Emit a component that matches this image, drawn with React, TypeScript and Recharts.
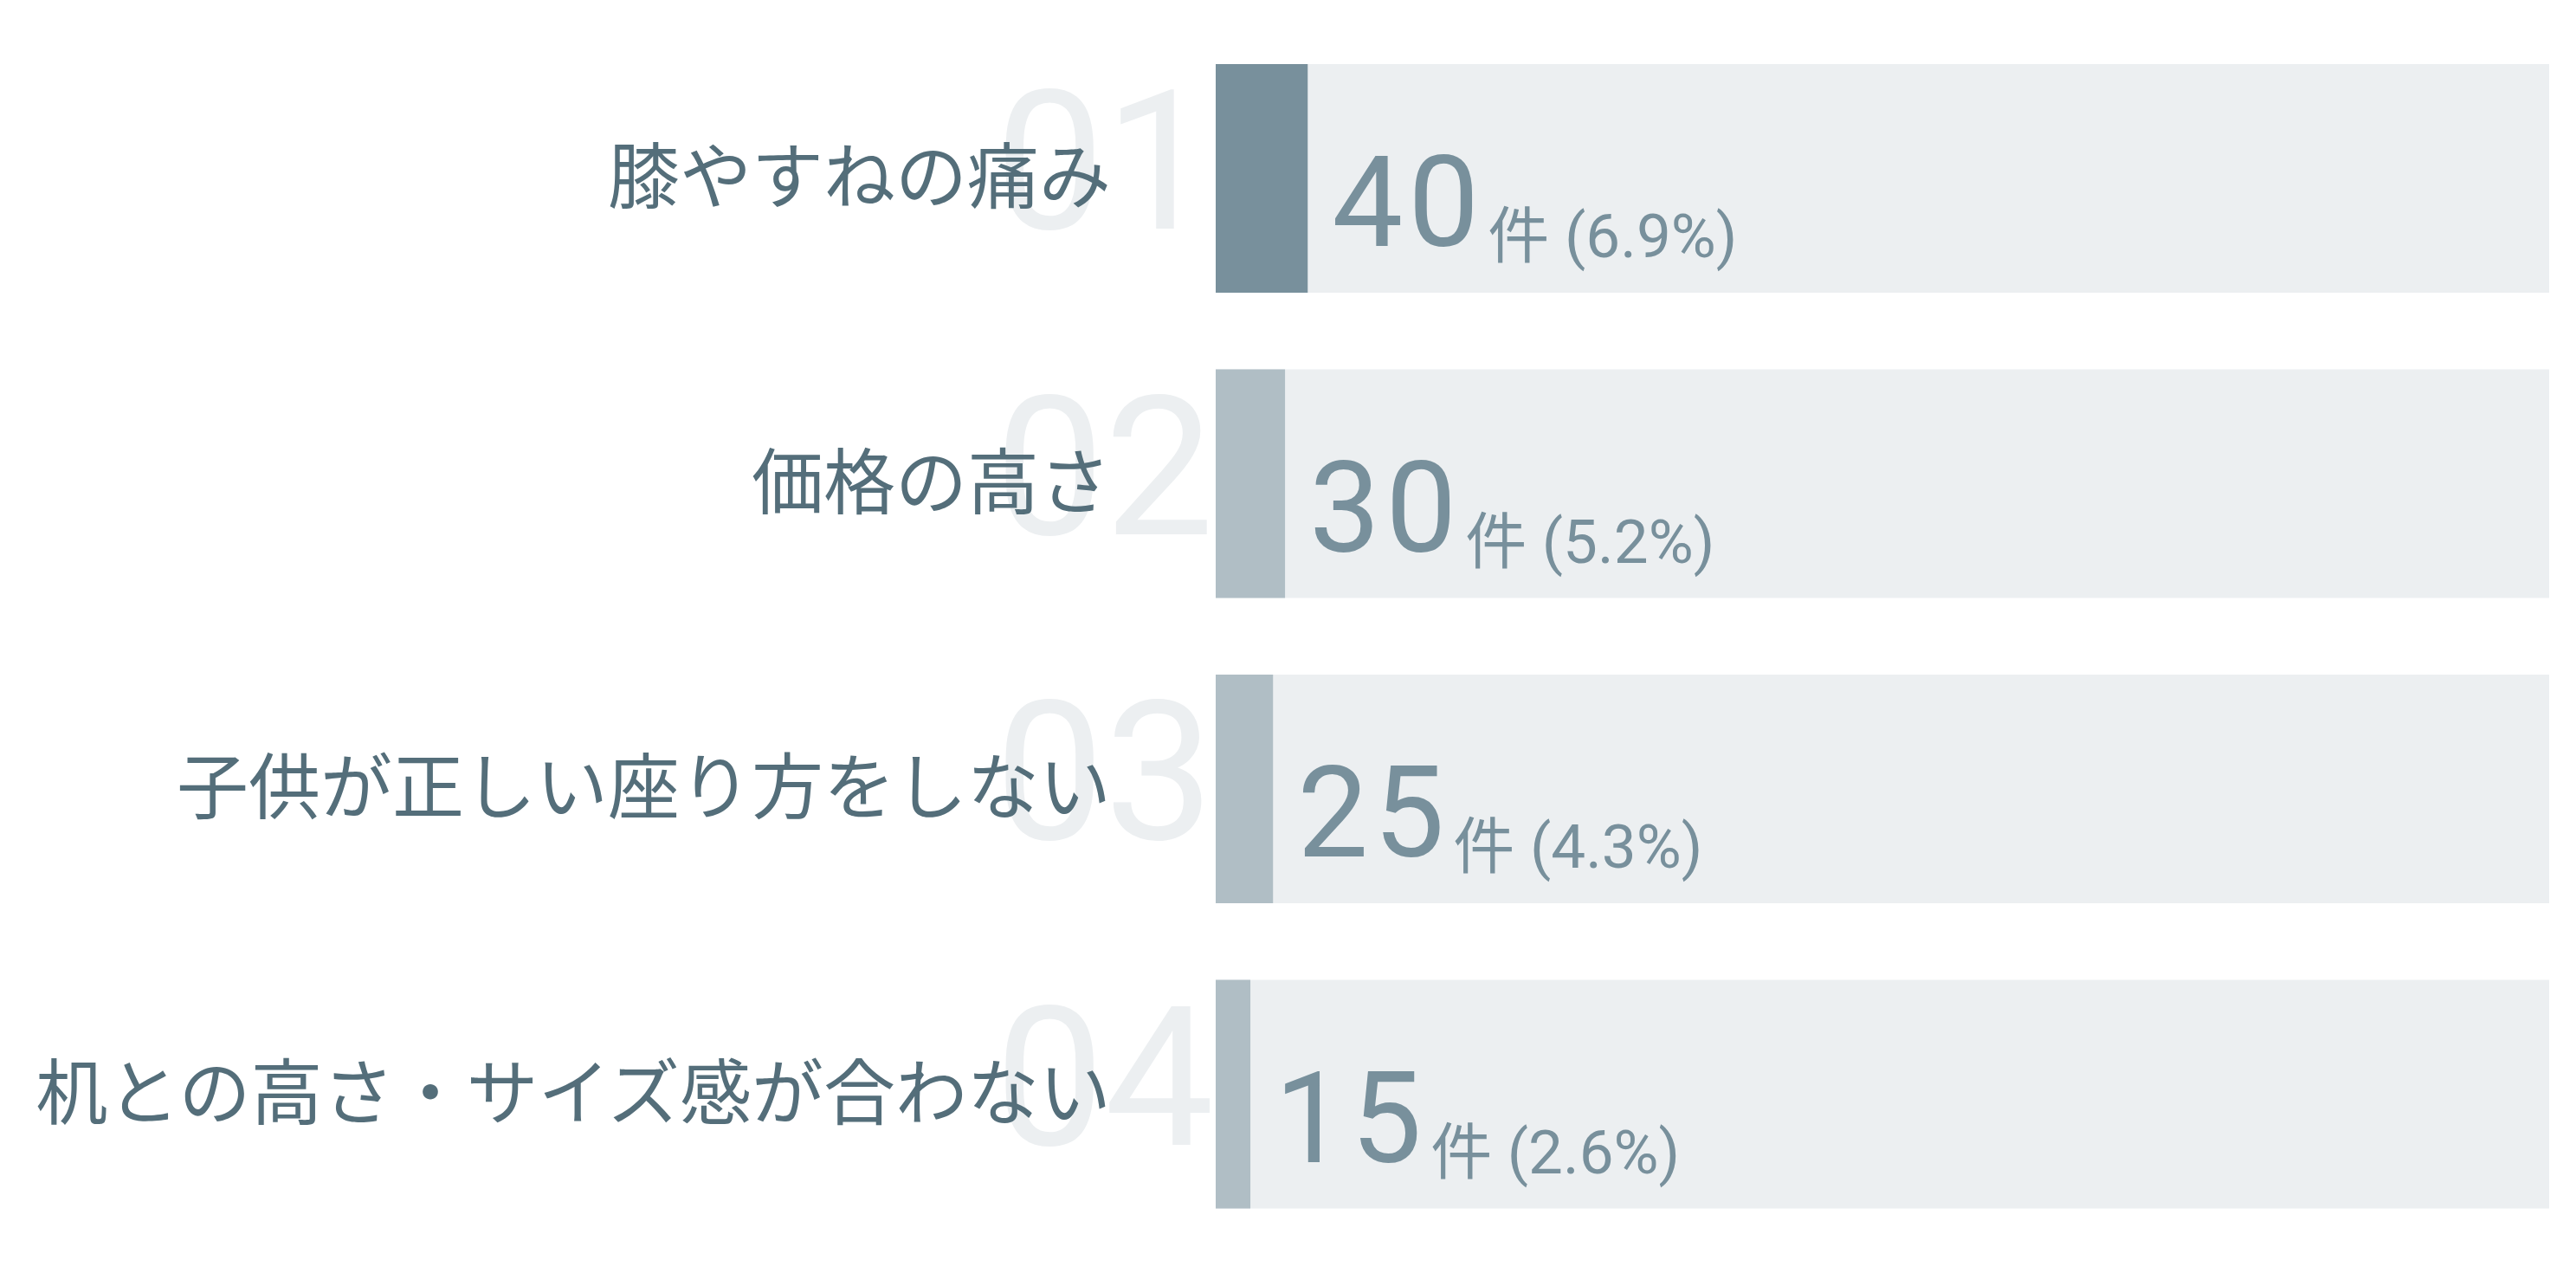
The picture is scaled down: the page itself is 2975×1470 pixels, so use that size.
import React from "react";
import { BarChart, Bar, Cell, XAxis, YAxis, LabelList } from "recharts";

const categories = [
  "膝やすねの痛み",
  "価格の高さ",
  "子供が正しい座り方をしない",
  "机との高さ・サイズ感が合わない",
];
const ranks = ["01", "02", "03", "04"];
const counts = [40, 30, 25, 15];
const percents = [6.9, 5.2, 4.3, 2.6];
const unit = "件";

const LABEL_COLOR = "#546e7a";
const VALUE_COLOR = "#78909c";
const TOP_COLOR = "#78909c";
const BAR_COLOR = "#b0bec5";
const TRACK_COLOR = "#eceff1";

const data = categories.map((name, i) => ({
  name,
  rank: ranks[i],
  count: counts[i],
  percent: percents[i],
}));

function CategoryTick(props: any) {
  const { x, y, payload, index } = props;
  return (
    <g>
      {/* big rank number sits behind the label */}
      <text
        x={x - 2}
        y={y + 58}
        textAnchor="end"
        fill={TRACK_COLOR}
        fontFamily="Roboto, 'Open Sans', sans-serif"
        fontWeight={400}
        fontSize={225}
      >
        {ranks[index]}
      </text>
      <text
        x={x - 121}
        y={y - 8}
        textAnchor="end"
        dominantBaseline="central"
        fill={LABEL_COLOR}
        fontFamily="'Noto Sans CJK JP', sans-serif"
        fontSize={83}
      >
        {payload.value}
      </text>
    </g>
  );
}

function ValueLabel(props: any) {
  const { x, y, width, height, index } = props;
  const cy = y + height / 2;
  return (
    <text
      x={x + width + 28}
      y={cy + 78}
      fill={VALUE_COLOR}
      fontFamily="Roboto, 'Noto Sans CJK JP', sans-serif"
    >
      <tspan fontSize={146} letterSpacing={6}>
        {counts[index]}
      </tspan>
      <tspan fontSize={71} dx={4} dy={13}>
        {`${unit} (${percents[index]}%)`}
      </tspan>
    </text>
  );
}

export default function App() {
  return (
    <div style={{ position: "absolute", left: 0, top: 0, background: "#fff" }}>
      <BarChart
        width={2975}
        height={1470}
        layout="vertical"
        data={data}
        margin={{ top: 30, right: 31, left: 0, bottom: 30 }}
        barSize={264}
      >
        <XAxis type="number" domain={[0, 100]} hide />
        <YAxis
          type="category"
          dataKey="name"
          width={1404}
          axisLine={false}
          tickLine={false}
          tickSize={0}
          tickMargin={0}
          tick={<CategoryTick />}
          interval={0}
        />
        <Bar
          dataKey="percent"
          background={{ fill: TRACK_COLOR }}
          isAnimationActive={false}
        >
          {data.map((d, i) => (
            <Cell key={`cell-${i}`} fill={i === 0 ? TOP_COLOR : BAR_COLOR} />
          ))}
          <LabelList dataKey="count" content={<ValueLabel />} />
        </Bar>
      </BarChart>
    </div>
  );
}
